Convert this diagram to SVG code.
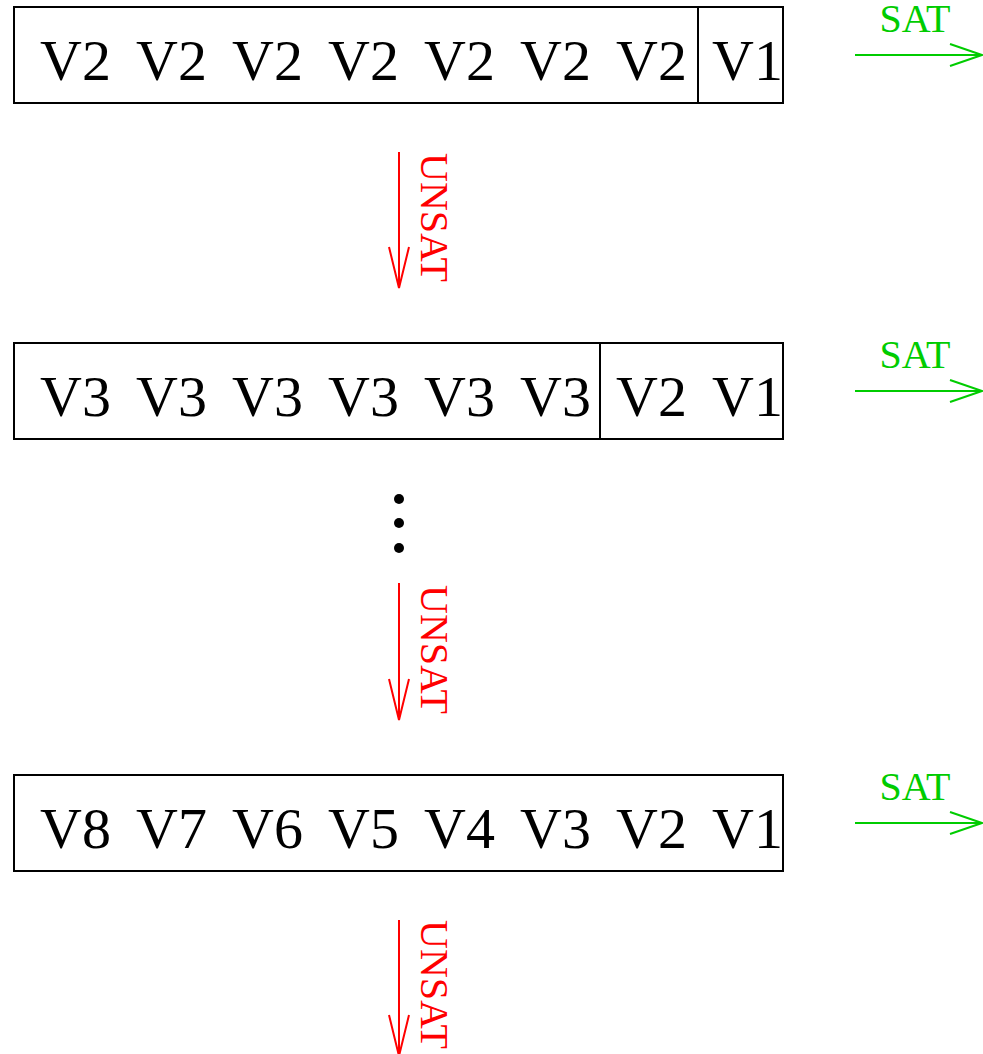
<svg xmlns="http://www.w3.org/2000/svg" width="983" height="1054" viewBox="0 0 983 1054">
<defs>
<style>
.box{fill:#fff;stroke:#000;stroke-width:2}
.div{stroke:#000;stroke-width:2}
.v{font-family:"Liberation Serif",serif;font-size:58px;fill:#000}
.sat{font-family:"Liberation Serif",serif;font-size:40px;fill:#00cc00;text-anchor:middle}
.unsat{font-family:"Liberation Serif",serif;font-size:40px;fill:#ff0000;text-anchor:middle}
.g{stroke:#00cc00;stroke-width:2;fill:none}
.r{stroke:#ff0000;stroke-width:2;fill:none}
</style>
</defs>
<rect width="983" height="1054" fill="#fff"/>
<g id="row1">
<rect class="box" x="14" y="7" width="769" height="96"/>
<line class="div" x1="698" y1="7" x2="698" y2="103"/>
<text class="v" y="80"><tspan x="40">V2</tspan><tspan x="136">V2</tspan><tspan x="232">V2</tspan><tspan x="328">V2</tspan><tspan x="424">V2</tspan><tspan x="520">V2</tspan><tspan x="616">V2</tspan><tspan x="712">V1</tspan></text>
</g>
<g id="row2">
<rect class="box" x="14" y="343" width="769" height="96"/>
<line class="div" x1="600" y1="343" x2="600" y2="439"/>
<text class="v" y="416"><tspan x="40">V3</tspan><tspan x="136">V3</tspan><tspan x="232">V3</tspan><tspan x="328">V3</tspan><tspan x="424">V3</tspan><tspan x="520">V3</tspan><tspan x="616">V2</tspan><tspan x="712">V1</tspan></text>
</g>
<g id="dots">
<circle cx="399" cy="499" r="5" fill="#000"/>
<circle cx="399" cy="523" r="5" fill="#000"/>
<circle cx="399" cy="548" r="5" fill="#000"/>
</g>
<g id="row3">
<rect class="box" x="14" y="775" width="769" height="96"/>
<text class="v" y="848"><tspan x="40">V8</tspan><tspan x="136">V7</tspan><tspan x="232">V6</tspan><tspan x="328">V5</tspan><tspan x="424">V4</tspan><tspan x="520">V3</tspan><tspan x="616">V2</tspan><tspan x="712">V1</tspan></text>
</g>
<g id="connectors">
<g id="sat1">
<path class="g" d="M855 55H982M950 44L982 55L950 66"/>
<text class="sat" x="915" y="32">SAT</text>
</g>
<g id="sat2">
<path class="g" d="M855 391H982M950 380L982 391L950 402"/>
<text class="sat" x="915" y="368">SAT</text>
</g>
<g id="sat3">
<path class="g" d="M855 823H982M950 812L982 823L950 834"/>
<text class="sat" x="915" y="800">SAT</text>
</g>
<g id="unsat1">
<path class="r" d="M399 152V288M389 247L399 288L409 247"/>
<text class="unsat" transform="translate(421 217.5) rotate(90)">UNSAT</text>
</g>
<g id="unsat2">
<path class="r" d="M399 583V720M389 679L399 720L409 679"/>
<text class="unsat" transform="translate(421 649.5) rotate(90)">UNSAT</text>
</g>
<g id="unsat3">
<path class="r" d="M399 920V1056M389 1015L399 1056L409 1015"/>
<text class="unsat" transform="translate(421 984.5) rotate(90)">UNSAT</text>
</g>
</g>
</svg>
